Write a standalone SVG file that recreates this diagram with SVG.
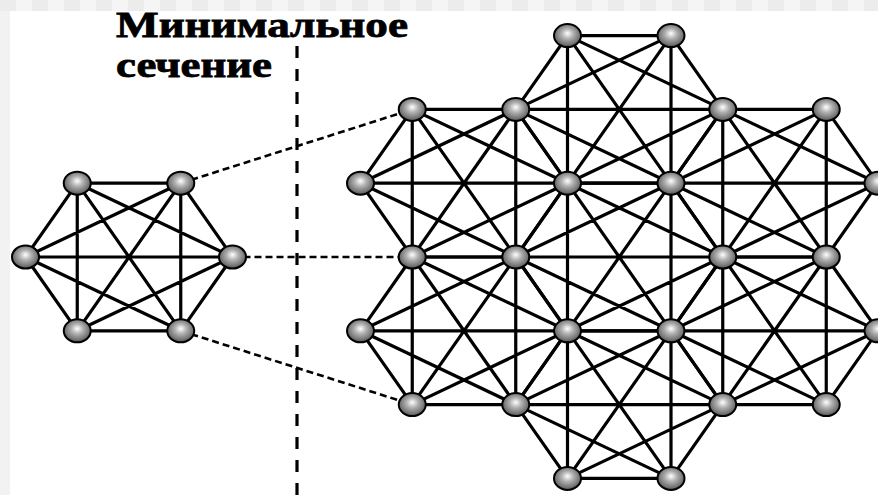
<svg xmlns="http://www.w3.org/2000/svg" xmlns:xlink="http://www.w3.org/1999/xlink" width="878" height="495" viewBox="0 0 878 495">
<style>
.edge{fill:none;stroke:#000;stroke-width:3.2;stroke-linecap:round}
.dash{fill:none;stroke:#000;stroke-width:2.6;stroke-dasharray:7 4}
.cut{fill:none;stroke:#000;stroke-width:3.2;stroke-dasharray:12 11}
.title{font-family:"Liberation Serif","Times New Roman",serif;font-weight:bold;font-size:36px;fill:#000;stroke:#000;stroke-width:0.8}
.nd{fill:url(#ball);stroke:#000;stroke-width:2}
</style>
<defs>
<pattern id="tiles" x="0" y="0" width="32" height="11" patternUnits="userSpaceOnUse">
<rect x="0" y="0" width="16" height="11" fill="#ececec"/>
<rect x="16" y="0" width="16" height="11" fill="#f5f5f5"/>
</pattern>
<radialGradient id="ball" cx="0.5" cy="0.45" r="0.55" fx="0.5" fy="0.4">
<stop offset="0" stop-color="#ffffff"/>
<stop offset="0.4" stop-color="#b0b0b0"/>
<stop offset="0.85" stop-color="#6e6e6e"/>
<stop offset="1" stop-color="#404040"/>
</radialGradient>
<path id="k6" class="edge" d="M-51.75,-73.8L51.75,-73.8 M-51.75,-73.8L103.5,0 M-51.75,-73.8L51.75,73.8 M-51.75,-73.8L-51.75,73.8 M-51.75,-73.8L-103.5,0 M51.75,-73.8L103.5,0 M51.75,-73.8L51.75,73.8 M51.75,-73.8L-51.75,73.8 M51.75,-73.8L-103.5,0 M103.5,0L51.75,73.8 M103.5,0L-51.75,73.8 M103.5,0L-103.5,0 M51.75,73.8L-51.75,73.8 M51.75,73.8L-103.5,0 M-51.75,73.8L-103.5,0"/>
<ellipse id="ball-node" class="nd" cx="0" cy="0" rx="13.5" ry="11.5"/>
</defs>
<rect x="0" y="0" width="878" height="495" fill="#f2f2f2"/>
<rect x="0" y="0" width="878" height="11" fill="url(#tiles)"/>
<rect x="10" y="11" width="868" height="484" fill="#ffffff"/>

<g id="title">
<text class="title" x="116" y="37" textLength="292" lengthAdjust="spacingAndGlyphs">Минимальное</text>
<text class="title" x="116" y="77" textLength="156" lengthAdjust="spacingAndGlyphs">сечение</text>
</g>

<g id="connectors">
<line class="cut" x1="297" y1="46" x2="297" y2="495"/>
<line class="dash" x1="180.75" y1="183.2" x2="412.25" y2="109.4"/>
<line class="dash" x1="232.5" y1="257" x2="412.25" y2="257"/>
<line class="dash" x1="180.75" y1="330.8" x2="412.25" y2="404.6"/>
<use xlink:href="#k6" href="#k6" x="129" y="257"/>
<use xlink:href="#k6" href="#k6" x="464" y="183.2"/>
<use xlink:href="#k6" href="#k6" x="464" y="330.8"/>
<use xlink:href="#k6" href="#k6" x="619.25" y="109.4"/>
<use xlink:href="#k6" href="#k6" x="619.25" y="257"/>
<use xlink:href="#k6" href="#k6" x="619.25" y="404.6"/>
<use xlink:href="#k6" href="#k6" x="774.5" y="183.2"/>
<use xlink:href="#k6" href="#k6" x="774.5" y="330.8"/>
</g>

<g id="left-nodes">
<g id="L1"><use xlink:href="#ball-node" href="#ball-node" x="77.25" y="183.2"/></g>
<g id="L2"><use xlink:href="#ball-node" href="#ball-node" x="180.75" y="183.2"/></g>
<g id="L3"><use xlink:href="#ball-node" href="#ball-node" x="232.5" y="257"/></g>
<g id="L4"><use xlink:href="#ball-node" href="#ball-node" x="180.75" y="330.8"/></g>
<g id="L5"><use xlink:href="#ball-node" href="#ball-node" x="77.25" y="330.8"/></g>
<g id="L6"><use xlink:href="#ball-node" href="#ball-node" x="25.5" y="257"/></g>
</g>

<g id="right-nodes">
<g id="R1"><use xlink:href="#ball-node" href="#ball-node" x="567.5" y="35.6"/></g>
<g id="R2"><use xlink:href="#ball-node" href="#ball-node" x="671" y="35.6"/></g>
<g id="R3"><use xlink:href="#ball-node" href="#ball-node" x="412.25" y="109.4"/></g>
<g id="R4"><use xlink:href="#ball-node" href="#ball-node" x="515.75" y="109.4"/></g>
<g id="R5"><use xlink:href="#ball-node" href="#ball-node" x="722.75" y="109.4"/></g>
<g id="R6"><use xlink:href="#ball-node" href="#ball-node" x="826.25" y="109.4"/></g>
<g id="R7"><use xlink:href="#ball-node" href="#ball-node" x="360.5" y="183.2"/></g>
<g id="R8"><use xlink:href="#ball-node" href="#ball-node" x="567.5" y="183.2"/></g>
<g id="R9"><use xlink:href="#ball-node" href="#ball-node" x="671" y="183.2"/></g>
<g id="R10"><use xlink:href="#ball-node" href="#ball-node" x="878" y="183.2"/></g>
<g id="R11"><use xlink:href="#ball-node" href="#ball-node" x="412.25" y="257"/></g>
<g id="R12"><use xlink:href="#ball-node" href="#ball-node" x="515.75" y="257"/></g>
<g id="R13"><use xlink:href="#ball-node" href="#ball-node" x="722.75" y="257"/></g>
<g id="R14"><use xlink:href="#ball-node" href="#ball-node" x="826.25" y="257"/></g>
<g id="R15"><use xlink:href="#ball-node" href="#ball-node" x="360.5" y="330.8"/></g>
<g id="R16"><use xlink:href="#ball-node" href="#ball-node" x="567.5" y="330.8"/></g>
<g id="R17"><use xlink:href="#ball-node" href="#ball-node" x="671" y="330.8"/></g>
<g id="R18"><use xlink:href="#ball-node" href="#ball-node" x="878" y="330.8"/></g>
<g id="R19"><use xlink:href="#ball-node" href="#ball-node" x="412.25" y="404.6"/></g>
<g id="R20"><use xlink:href="#ball-node" href="#ball-node" x="515.75" y="404.6"/></g>
<g id="R21"><use xlink:href="#ball-node" href="#ball-node" x="722.75" y="404.6"/></g>
<g id="R22"><use xlink:href="#ball-node" href="#ball-node" x="826.25" y="404.6"/></g>
<g id="R23"><use xlink:href="#ball-node" href="#ball-node" x="567.5" y="478.4"/></g>
<g id="R24"><use xlink:href="#ball-node" href="#ball-node" x="671" y="478.4"/></g>
</g>
</svg>
